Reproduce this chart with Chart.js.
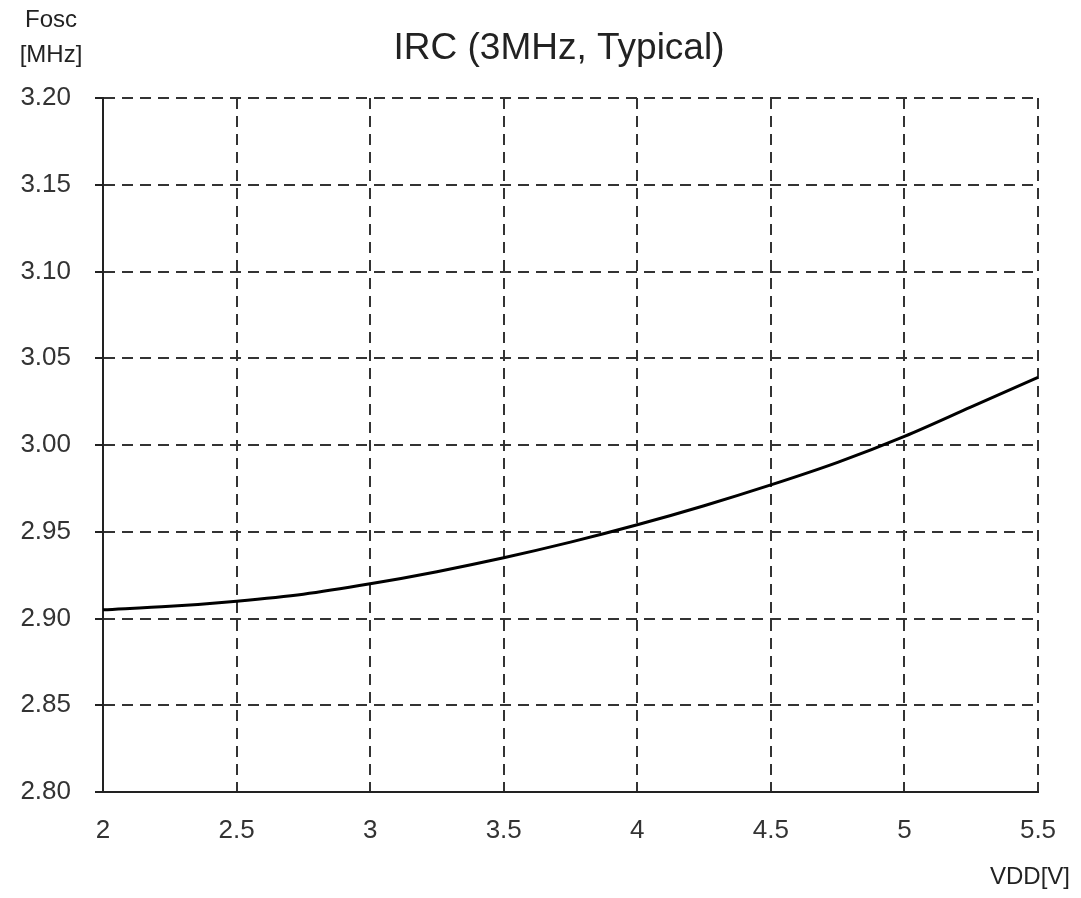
<!DOCTYPE html>
<html>
<head>
<meta charset="utf-8">
<script src="https://cdn.jsdelivr.net/npm/chart.js@4/dist/chart.umd.min.js"></script>
<style>
html,body{margin:0;padding:0;background:#fff;}
#wrap{width:1081px;height:898px;}
</style>
</head>
<body>
<div id="wrap"><canvas id="c" width="1081" height="898"></canvas></div>
<script>
const vdd = [2, 2.25, 2.5, 2.75, 3, 3.25, 3.5, 3.75, 4, 4.25, 4.5, 4.75, 5, 5.25, 5.5];
const fosc = [2.905, 2.907, 2.910, 2.914, 2.920, 2.927, 2.935, 2.944, 2.954, 2.965, 2.977, 2.990, 3.005, 3.022, 3.039];
const titleText = 'IRC (3MHz, Typical)';
const yLabel = ['Fosc', '[MHz]'];
const xLabel = 'VDD[V]';
const FONT = '"Liberation Sans", Arial, sans-serif';

const textPlugin = {
  id: 'texts',
  afterDraw(chart) {
    const ctx = chart.ctx;
    ctx.save();
    ctx.fillStyle = '#222';
    ctx.textBaseline = 'middle';
    ctx.textAlign = 'center';
    ctx.font = '37px ' + FONT;
    ctx.fillText(titleText, 559, 49);
    ctx.font = '24px ' + FONT;
    ctx.fillText(yLabel[0], 51, 20);
    ctx.fillText(yLabel[1], 51, 55);
    ctx.textAlign = 'right';
    ctx.fillText(xLabel, 1070, 877);
    ctx.restore();
  }
};

new Chart(document.getElementById('c'), {
  type: 'line',
  data: {
    datasets: [{
      data: vdd.map((x, i) => ({x: x, y: fosc[i]})),
      borderColor: '#000',
      borderWidth: 3,
      pointRadius: 0,
      cubicInterpolationMode: 'monotone',
      fill: false
    }]
  },
  options: {
    responsive: false,
    animation: false,
    layout: {padding: {top: 98, right: 43, left: 0, bottom: 0}},
    plugins: {legend: {display: false}, title: {display: false}, tooltip: {enabled: false}},
    scales: {
      x: {
        type: 'linear', min: 2, max: 5.5,
        afterFit(s) { s.height = 106; },
        ticks: {stepSize: 0.5, color: '#333', font: {size: 26, family: FONT}, padding: 23, maxRotation: 0,
          callback: v => String(v)},
        grid: {color: '#333', lineWidth: 2, drawTicks: false},
        border: {display: true, color: '#222', width: 2, dash: [11, 7]}
      },
      y: {
        min: 2.8, max: 3.2,
        afterFit(s) { s.width = 103; },
        ticks: {stepSize: 0.05, color: '#333', font: {size: 26, family: FONT}, padding: 24,
          callback: v => v.toFixed(2)},
        grid: {color: '#333', lineWidth: 2, drawTicks: true, tickLength: 8, tickBorderDash: [], tickColor: '#222', tickWidth: 2},
        border: {display: true, color: '#222', width: 2, dash: [11, 7]}
      }
    }
  },
  plugins: [textPlugin]
});
</script>
</body>
</html>
